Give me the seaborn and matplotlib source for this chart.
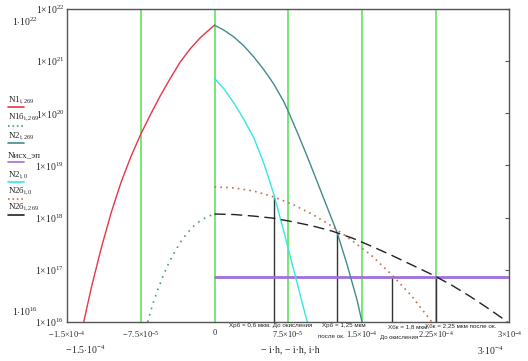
# Concentration profiles (Mathcad-style log plot)
import numpy as np
import matplotlib
matplotlib.use("Agg")
import matplotlib.pyplot as plt
from matplotlib.lines import Line2D
from matplotlib.ticker import NullLocator
import seaborn as sns

# depth in units of 1e-5 cm, concentration as log10(cm^-3)
n1_x = [-13.3, -12.5, -11.5, -10.5, -9.5, -8.5, -7.5, -6.5, -5.5, -4.5, -3.5, -2.5, -1.5, -0.5, 0]
n1_log = [16.00, 16.68, 17.43, 18.10, 18.68, 19.17, 19.60, 19.98, 20.34, 20.67, 20.98, 21.23, 21.44, 21.61, 21.69]

n1b_x = [-6.8, -6.3, -5.8, -5.3, -4.8, -4.3, -3.5, -2.8, -2.1, -1.4, -0.7, 0]
n1b_log = [16.00, 16.33, 16.60, 16.85, 17.07, 17.26, 17.52, 17.70, 17.84, 17.95, 18.02, 18.07]

n2_x = [0, 1, 2, 3, 4, 5, 6, 7, 7.5, 8.5, 9.5, 10.5, 11.5, 12.5, 13.5, 14.5, 15.0]
n2_log = [21.69, 21.59, 21.46, 21.29, 21.08, 20.84, 20.57, 20.24, 20.04, 19.60, 19.14, 18.66, 18.18, 17.70, 17.09, 16.42, 16.0]

n20_x = [0, 1, 2, 3, 4, 5, 6, 7, 8, 9, 9.43]
n20_log = [20.67, 20.46, 20.19, 19.88, 19.53, 19.05, 18.47, 17.77, 17.04, 16.31, 16.0]

n2b0_x = [0, 2, 4, 6, 8, 10, 12, 14, 16, 18, 20, 22.1]
n2b0_log = [18.59, 18.57, 18.51, 18.40, 18.25, 18.06, 17.83, 17.56, 17.27, 16.91, 16.51, 16.0]

n2b269_x = [0, 2, 4, 6, 8, 10, 12, 14, 16, 18, 20, 22, 24, 26, 28, 29.8]
n2b269_log = [18.07, 18.06, 18.03, 17.99, 17.92, 17.84, 17.74, 17.61, 17.45, 17.28, 17.10, 16.92, 16.72, 16.49, 16.24, 16.0]

nisx_x = [0, 30]
nisx_log = [16.87, 16.87]

green_x = [-7.5, 0, 7.5, 15, 22.5]
drop_x = [6.0, 12.5, 18.0, 22.5]
drop_top_log = [18.40, 17.71, 16.87, 16.87]

x_ticks = [-15, -7.5, 0, 7.5, 15, 22.5, 30]
x_labels = [r"$-\,1.5{\times}10^{-4}$", r"$-\,7.5{\times}10^{-5}$", "0",
            r"$7.5{\times}10^{-5}$", r"$1.5{\times}10^{-4}$", r"$2.25{\times}10^{-4}$",
            r"$3{\times}10^{-4}$"]
y_ticks = [16, 17, 18, 19, 20, 21, 22]

sns.set_style("white")
plt.rcParams["font.family"] = ["Liberation Serif", "DejaVu Serif"]
plt.rcParams["mathtext.fontset"] = "custom"
plt.rcParams["mathtext.rm"] = "Liberation Serif"
plt.rcParams["mathtext.it"] = "Liberation Serif:italic"


def xs(v):
    return np.array(v) * 1e-5


def ys(v):
    return 10.0 ** np.array(v)


W, H = 528, 361
fig = plt.figure(figsize=(W / 100, H / 100), dpi=100)
ax = fig.add_axes([67 / W, 1 - 322 / H, (509.5 - 67) / W, (322 - 9) / H])
ax.set_yscale("log")

for gx in green_x:
    ax.axvline(gx * 1e-5, color="#5fe35f", lw=1.2, zorder=1)

ax.vlines(xs(drop_x), 1e16, ys(drop_top_log), color="#333333", lw=1.0, zorder=2)

sns.lineplot(x=xs(nisx_x), y=ys(nisx_log), ax=ax, color="#a070d8", lw=2.0)
sns.lineplot(x=xs(n1_x), y=ys(n1_log), ax=ax, color="#e8344a", lw=1.0)
sns.lineplot(x=xs(n1b_x), y=ys(n1b_log), ax=ax, color="#4a9a80", lw=1.2, linestyle=(0, (1, 3)))
sns.lineplot(x=xs(n2_x), y=ys(n2_log), ax=ax, color="#3f8c8c", lw=1.0)
sns.lineplot(x=xs(n20_x), y=ys(n20_log), ax=ax, color="#33e6e6", lw=1.0)
sns.lineplot(x=xs(n2b0_x), y=ys(n2b0_log), ax=ax, color="#c0704a", lw=1.2, linestyle=(0, (1, 2.5)))
sns.lineplot(x=xs(n2b269_x), y=ys(n2b269_log), ax=ax, color="#222222", lw=1.0, linestyle=(0, (8, 4)))

ax.set_xlim(-1.5e-4, 3e-4)
ax.set_ylim(1e16, 1e22)
ax.set_yticks(ys(y_ticks))
ax.set_yticklabels([r"$1{\times}10^{%d}$" % t for t in y_ticks])
ax.yaxis.set_minor_locator(NullLocator())
ax.set_xticks(xs(x_ticks))
ax.set_xticklabels(x_labels)
ax.tick_params(axis="y", direction="in", length=3, right=True, labelsize=7, pad=2, color="#555555")
ax.tick_params(axis="x", length=0, labelsize=6, pad=5)
for s in ax.spines.values():
    s.set_color("#555555")
    s.set_linewidth(1.0)
    s.set_visible(True)


def fx(px):
    return px / W


def fy(py):
    return 1 - py / H


# legend, Mathcad style: label above its line sample
legend = [
    ("N1$_{\\mathrm{i,269}}$", 100, 107, "#e8344a", "-"),
    ("N1б$_{\\mathrm{i,269}}$", 117, 126, "#4a9a80", ":"),
    ("N2$_{\\mathrm{i,269}}$", 136, 143, "#3f8c8c", "-"),
    ("Nисх_эп", 155, 162, "#a070d8", "-"),
    ("N2$_{\\mathrm{i,0}}$", 175, 182, "#33e6e6", "-"),
    ("N2б$_{\\mathrm{i,0}}$", 191, 199, "#c0704a", ":"),
    ("N2б$_{\\mathrm{i,269}}$", 207, 215, "#222222", "-"),
]
for label, ty, ly, col, ls in legend:
    fig.text(fx(8), fy(ty), label, fontsize=6.5, va="center", ha="left")
    fig.add_artist(Line2D([fx(8), fx(24)], [fy(ly), fy(ly)], color=col, lw=1.2,
                          linestyle=ls, transform=fig.transFigure))

# axis limit labels
fig.text(fx(25), fy(22), r"$1{\cdot}10^{22}$", fontsize=7, ha="center", va="center")
fig.text(fx(25), fy(312), r"$1{\cdot}10^{16}$", fontsize=7, ha="center", va="center")
fig.text(fx(85), fy(350), r"$-\,1.5{\cdot}10^{-4}$", fontsize=7, ha="center", va="center")
fig.text(fx(490), fy(351), r"$3{\cdot}10^{-4}$", fontsize=7, ha="center", va="center")
fig.text(fx(290), fy(350), "− i·h, − i·h, i·h", fontsize=7, ha="center", va="center")

# junction depth notes
note = dict(fontsize=4.5, family=["Liberation Sans", "DejaVu Sans"], va="center", ha="left")
fig.text(fx(229), fy(325.5), "Хрб = 0,6 мкм. До окисления", **note)
fig.text(fx(322), fy(325.5), "Хрб = 1,25 мкм", **note)
fig.text(fx(318), fy(336), "после ок.", **note)
fig.text(fx(388), fy(326.5), "Хбк = 1,8 мкм.", **note)
fig.text(fx(380), fy(337), "До окисления", fontsize=4.3,
         family=["Liberation Sans", "DejaVu Sans"], va="center", ha="left")
fig.text(fx(425), fy(325.5), "Хбк = 2,25 мкм после ок.", **note)

fig.savefig("out.png", dpi=100, facecolor="white")
